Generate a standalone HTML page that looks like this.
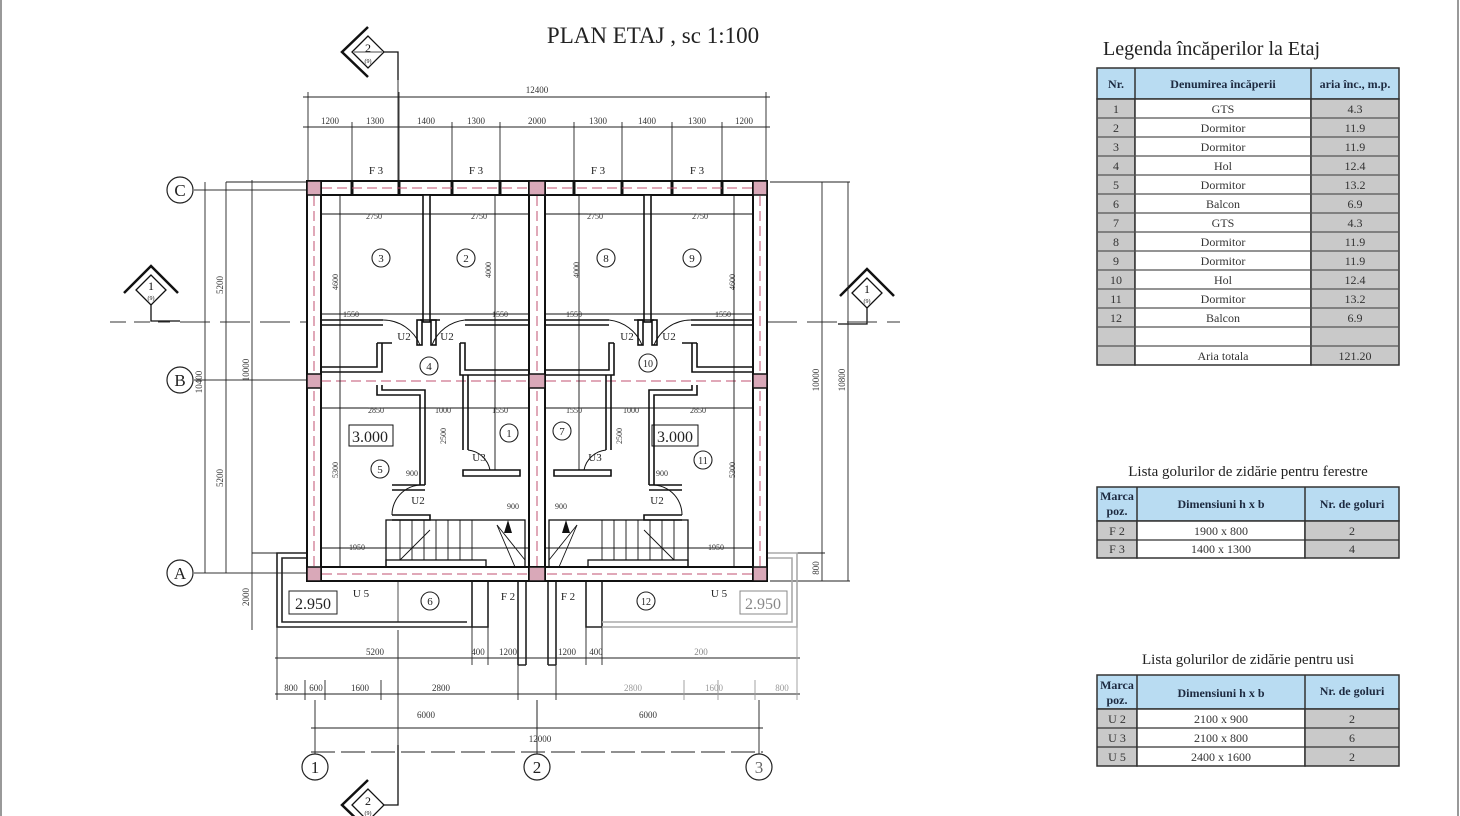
<!DOCTYPE html>
<html><head><meta charset="utf-8"><style>
html,body{margin:0;padding:0;background:#fff;}
svg{display:block;font-family:"Liberation Serif",serif;}
</style></head><body>
<svg width="1460" height="816" viewBox="0 0 1460 816" xmlns="http://www.w3.org/2000/svg">
<rect width="1460" height="816" fill="#fff"/>
<line x1="1" y1="0" x2="1" y2="816" stroke="#999" stroke-width="2"/>
<line x1="1458" y1="0" x2="1458" y2="816" stroke="#999" stroke-width="2"/>
<text x="653" y="43" font-size="23" text-anchor="middle" fill="#222">PLAN ETAJ , sc 1:100</text>

<!-- section markers -->
<g stroke="#111" fill="none" stroke-width="1.3">
  <path d="M368 27 L342 52 L368 77" stroke-width="2.5"/>
  <path d="M368 36 L352 52 L368 68 L384 52 Z"/>
  <line x1="354" y1="52" x2="382" y2="52" stroke-width="0.8"/>
  <path d="M384 52 L398 52 L398 80"/>
  <path d="M368 780 L342 805 L368 830" stroke-width="2.5"/>
  <path d="M368 789 L352 805 L368 821 L384 805 Z"/>
  <path d="M384 805 L398 805 L398 745"/>
  <path d="M124 293 L151 266 L178 293" stroke-width="2.5"/>
  <path d="M151 275 L136 290 L151 305 L166 290 Z"/>
  <path d="M151 305 L151 321 L180 321"/>
  <path d="M840 296 L867 269 L894 296" stroke-width="2.5"/>
  <path d="M867 278 L852 293 L867 308 L882 293 Z"/>
  <path d="M867 308 L867 324 L838 324"/>
</g>
<g font-size="12" text-anchor="middle" fill="#111">
<text x="368" y="52">2</text><text x="368" y="63" font-size="6">(9)</text>
<text x="368" y="805">2</text><text x="368" y="815" font-size="6">(9)</text>
<text x="151" y="290">1</text><text x="151" y="300" font-size="6">(9)</text>
<text x="867" y="293">1</text><text x="867" y="303" font-size="6">(9)</text>
</g>

<!-- axis lines -->
<g stroke="#333" stroke-width="1" fill="none">
  <line x1="110" y1="322" x2="170" y2="322" stroke-dasharray="16 8"/>
  <line x1="180" y1="322" x2="307" y2="322" stroke-dasharray="30 10"/>
  <line x1="767" y1="322" x2="900" y2="322" stroke-dasharray="30 10"/>
  <line x1="194" y1="190" x2="307" y2="190"/>
  <line x1="194" y1="380" x2="307" y2="380"/>
  <line x1="194" y1="573" x2="307" y2="573"/>
  <line x1="315" y1="700" x2="315" y2="754"/>
  <line x1="537" y1="700" x2="537" y2="754"/>
  <line x1="759" y1="700" x2="759" y2="754"/>
  <line x1="398" y1="80" x2="398" y2="181"/>
  <line x1="398" y1="630" x2="398" y2="745"/>
</g>
<g stroke="#222" stroke-width="1.2" fill="#fff">
  <circle cx="180" cy="190" r="13"/><circle cx="180" cy="380" r="13"/><circle cx="180" cy="573" r="13"/>
  <circle cx="315" cy="767" r="13"/><circle cx="537" cy="767" r="13"/><circle cx="759" cy="767" r="13"/>
</g>
<g font-size="17" text-anchor="middle" fill="#222">
  <text x="180" y="196">C</text><text x="180" y="386">B</text><text x="180" y="579">A</text>
  <text x="315" y="773">1</text><text x="537" y="773">2</text><text x="759" y="773" fill="#666">3</text>
</g>

<!-- dimension lines -->
<g stroke="#222" stroke-width="0.9" fill="none">
  <line x1="303" y1="97" x2="770" y2="97"/>
  <line x1="303" y1="127" x2="770" y2="127"/>
  <line x1="308" y1="92" x2="308" y2="181"/><line x1="766" y1="92" x2="766" y2="181"/>
  <line x1="352" y1="122" x2="352" y2="181"/><line x1="399" y1="92" x2="399" y2="181"/>
  <line x1="452" y1="122" x2="452" y2="181"/><line x1="500" y1="122" x2="500" y2="181"/>
  <line x1="574" y1="122" x2="574" y2="181"/><line x1="622" y1="122" x2="622" y2="181"/>
  <line x1="672" y1="122" x2="672" y2="181"/><line x1="722" y1="122" x2="722" y2="181"/>
  <line x1="205" y1="182" x2="205" y2="573"/>
  <line x1="226" y1="182" x2="226" y2="573"/>
  <line x1="252" y1="180" x2="252" y2="630"/>
  <line x1="226" y1="182" x2="307" y2="182"/>
  <line x1="252" y1="553" x2="277" y2="553"/>
  <line x1="822" y1="182" x2="822" y2="581"/>
  <line x1="848" y1="182" x2="848" y2="581"/>
  <line x1="770" y1="182" x2="850" y2="182"/>
  <line x1="770" y1="553" x2="825" y2="553"/>
  <line x1="770" y1="581" x2="850" y2="581"/>
  <line x1="275" y1="658" x2="800" y2="658"/>
  <line x1="275" y1="694" x2="800" y2="694"/>
  <line x1="311" y1="728" x2="763" y2="728"/>
  <line x1="311" y1="752" x2="763" y2="752" stroke-dasharray="24 6"/>
  <line x1="277" y1="627" x2="277" y2="700"/>
  <line x1="305" y1="680" x2="305" y2="700"/>
  <line x1="325" y1="680" x2="325" y2="700"/>
  <line x1="381" y1="680" x2="381" y2="700"/>
  <line x1="472" y1="627" x2="472" y2="665"/>
  <line x1="488" y1="627" x2="488" y2="665"/>
  <line x1="518" y1="627" x2="518" y2="700"/>
  <line x1="556" y1="627" x2="556" y2="700"/>
  <line x1="586" y1="627" x2="586" y2="665"/>
  <line x1="602" y1="627" x2="602" y2="665"/>
  <line x1="537" y1="700" x2="537" y2="730"/>
</g>
<g stroke="#999" stroke-width="0.9">
  <line x1="797" y1="627" x2="797" y2="700"/><line x1="718" y1="680" x2="718" y2="700"/>
  <line x1="684" y1="680" x2="684" y2="700"/><line x1="755" y1="680" x2="755" y2="700"/>
</g>
<g font-size="9" text-anchor="middle" fill="#333">
  <text x="537" y="93">12400</text>
  <text x="330" y="124">1200</text><text x="375" y="124">1300</text><text x="426" y="124">1400</text>
  <text x="476" y="124">1300</text><text x="537" y="124">2000</text><text x="598" y="124">1300</text>
  <text x="647" y="124">1400</text><text x="697" y="124">1300</text><text x="744" y="124">1200</text>
  <text x="375" y="655">5200</text><text x="478" y="655">400</text><text x="508" y="655">1200</text>
  <text x="567" y="655">1200</text><text x="596" y="655">400</text><text x="701" y="655" fill="#888">200</text>
  <text x="291" y="691">800</text><text x="316" y="691">600</text><text x="360" y="691">1600</text>
  <text x="441" y="691">2800</text><text x="633" y="691" fill="#999">2800</text>
  <text x="714" y="691" fill="#999">1600</text><text x="782" y="691" fill="#999">800</text>
  <text x="426" y="718">6000</text><text x="648" y="718">6000</text><text x="540" y="742">12000</text>
  <text transform="translate(223,285) rotate(-90)">5200</text>
  <text transform="translate(223,478) rotate(-90)">5200</text>
  <text transform="translate(202,382) rotate(-90)">10400</text>
  <text transform="translate(249,370) rotate(-90)">10000</text>
  <text transform="translate(249,597) rotate(-90)">2000</text>
  <text transform="translate(819,380) rotate(-90)">10000</text>
  <text transform="translate(845,380) rotate(-90)">10800</text>
  <text transform="translate(819,568) rotate(-90)">800</text>
</g>

<!-- balconies -->
<g stroke="#222" stroke-width="1.6" fill="none">
  <path d="M321 553 L277 553 L277 627 L472 627 L472 581"/>
  <path d="M321 558 L282 558 L282 622 L467 622"/>
  <path d="M472 581 L488 581 L488 627 L472 627"/>
  <path d="M518 581 L518 665 M526 581 L526 665 M548 581 L548 665 M556 581 L556 665 M518 665 L526 665 M548 665 L556 665"/>
  <path d="M602 581 L602 627 L586 627 L586 581"/>
  <path d="M602 622 L792 622 L792 558 L753 558" stroke="#aaa"/>
  <path d="M602 627 L797 627 L797 553 L767 553" stroke="#aaa"/>
  <rect x="289" y="591" width="48" height="23" stroke-width="1"/>
  <rect x="740" y="591" width="47" height="23" stroke-width="1" stroke="#888"/>
  <line x1="398" y1="581" x2="398" y2="622" stroke-width="0.8"/>
</g>

<!-- outer walls -->
<g stroke="#111" stroke-width="2" fill="#fff">
  <rect x="307" y="181" width="460" height="14"/>
  <rect x="307" y="567" width="460" height="14"/>
  <rect x="307" y="181" width="14" height="400"/>
  <rect x="753" y="181" width="14" height="400"/>
  <rect x="529" y="181" width="16" height="400"/>
</g>
<g stroke="#111" stroke-width="3">
  <line x1="321" y1="195" x2="753" y2="195" stroke-width="2"/>
  <line x1="321" y1="567" x2="753" y2="567" stroke-width="2"/>
  <line x1="321" y1="195" x2="321" y2="567" stroke-width="2"/>
  <line x1="753" y1="195" x2="753" y2="567" stroke-width="2"/>
  <line x1="352" y1="181" x2="352" y2="195"/><line x1="399" y1="181" x2="399" y2="195"/>
  <line x1="452" y1="181" x2="452" y2="195"/><line x1="500" y1="181" x2="500" y2="195"/>
  <line x1="574" y1="181" x2="574" y2="195"/><line x1="622" y1="181" x2="622" y2="195"/>
  <line x1="672" y1="181" x2="672" y2="195"/><line x1="722" y1="181" x2="722" y2="195"/>
</g>
<g stroke="#c05070" stroke-width="1" stroke-dasharray="10 5" fill="none">
  <line x1="307" y1="188" x2="767" y2="188"/>
  <line x1="307" y1="574" x2="767" y2="574"/>
  <line x1="321" y1="381" x2="753" y2="381"/>
  <line x1="314" y1="181" x2="314" y2="581"/>
  <line x1="760" y1="181" x2="760" y2="581"/>
  <line x1="537" y1="181" x2="537" y2="581"/>
</g>
<g fill="#d9a8b8" stroke="#111" stroke-width="1.5">
  <rect x="307" y="181" width="14" height="14"/><rect x="529" y="181" width="16" height="14"/><rect x="753" y="181" width="14" height="14"/>
  <rect x="307" y="374" width="14" height="14"/><rect x="529" y="374" width="16" height="14"/><rect x="753" y="374" width="14" height="14"/>
  <rect x="307" y="567" width="14" height="14"/><rect x="529" y="567" width="16" height="14"/><rect x="753" y="567" width="14" height="14"/>
</g>
<g font-size="11" text-anchor="middle" fill="#222">
  <text x="376" y="174">F 3</text><text x="476" y="174">F 3</text><text x="598" y="174">F 3</text><text x="697" y="174">F 3</text>
</g>

<g id="half" stroke="#111" stroke-width="1.6" fill="none">
  <rect x="423" y="195" width="7" height="127" fill="#fff"/>
  <path d="M321 320 L383 320 M420 320 L440 320 M465 320 L529 320"/>
  <path d="M321 325 L383 325 M465 325 L529 325"/>
  <path d="M383 320 A40 40 0 0 1 420 345" stroke-width="1"/>
  <path d="M465 320 A40 40 0 0 0 432 345" stroke-width="1"/>
  <rect x="417" y="320" width="5" height="25"/><rect x="431" y="320" width="5" height="25"/>
  <path d="M377 343 L377 367 L321 367 M382 343 L382 372 L321 372"/>
  <path d="M377 343 L392 343 M460 343 L465 343 L465 370 L529 370 M460 343 L460 375 L529 375"/>
  <path d="M382 385 L382 390 L425 390 L425 485 M377 385 L377 395 L420 395 L420 485"/>
  <path d="M463 375 L463 450 M468 375 L468 450"/>
  <path d="M463 470 L520 470 L520 476 L463 476 Z"/>
  <path d="M468 450 A25 25 0 0 1 490 470" stroke-width="1"/>
  <path d="M392 485 L425 485 M392 490 L425 490"/>
  <path d="M392 515 A30 30 0 0 1 425 485" stroke-width="1"/>
  <path d="M392 515 L430 515 L430 520 L392 520"/>
  <rect x="386" y="520" width="139" height="47" stroke-width="1.3"/>
  <rect x="386" y="560" width="100" height="7" stroke-width="1.3"/>
  <g stroke-width="0.9">
    <line x1="400" y1="520" x2="400" y2="560"/><line x1="412" y1="520" x2="412" y2="560"/>
    <line x1="424" y1="520" x2="424" y2="560"/><line x1="436" y1="520" x2="436" y2="560"/>
    <line x1="448" y1="520" x2="448" y2="560"/><line x1="460" y1="520" x2="460" y2="560"/>
    <line x1="472" y1="520" x2="472" y2="560"/><line x1="400" y1="560" x2="430" y2="530"/>
    <line x1="497" y1="525" x2="515" y2="567"/><line x1="497" y1="525" x2="525" y2="560"/>
    <line x1="321" y1="214" x2="529" y2="214"/><line x1="321" y1="314" x2="529" y2="314"/>
    <line x1="321" y1="408" x2="529" y2="408"/><line x1="321" y1="548" x2="529" y2="548"/>
    <line x1="340" y1="195" x2="340" y2="567"/><line x1="495" y1="195" x2="495" y2="470"/>
  </g>
  <polygon points="508,520 504,533 512,533" fill="#111" stroke="none"/>
</g>
<use href="#half" transform="translate(1074,0) scale(-1,1)"/>
<rect x="349" y="425" width="44" height="21" stroke="#111" stroke-width="1" fill="none"/>
<rect x="652" y="425" width="46" height="21" stroke="#111" stroke-width="1" fill="none"/>

<g stroke="#222" stroke-width="1.1" fill="#fff">
  <circle cx="381" cy="258" r="9"/><circle cx="466" cy="258" r="9"/><circle cx="606" cy="258" r="9"/><circle cx="692" cy="258" r="9"/>
  <circle cx="429" cy="366" r="9"/><circle cx="648" cy="363" r="9"/><circle cx="509" cy="433" r="9"/><circle cx="562" cy="431" r="9"/>
  <circle cx="380" cy="469" r="9"/><circle cx="703" cy="460" r="9"/><circle cx="430" cy="601" r="9"/><circle cx="646" cy="601" r="9"/>
</g>
<g font-size="11" text-anchor="middle" fill="#222">
  <text x="381" y="262">3</text><text x="466" y="262">2</text><text x="606" y="262">8</text><text x="692" y="262">9</text>
  <text x="429" y="370">4</text><text x="648" y="367" font-size="10">10</text><text x="509" y="437">1</text><text x="562" y="435">7</text>
  <text x="380" y="473">5</text><text x="703" y="464" font-size="10">11</text><text x="430" y="605">6</text><text x="646" y="605" font-size="10">12</text>
  <text x="370" y="442" font-size="16">3.000</text><text x="675" y="442" font-size="16">3.000</text>
  <text x="313" y="609" font-size="16">2.950</text><text x="763" y="609" font-size="16" fill="#888">2.950</text>
  <text x="361" y="597">U 5</text><text x="719" y="597">U 5</text>
  <text x="508" y="600">F 2</text><text x="568" y="600">F 2</text>
  <text x="404" y="340">U2</text><text x="447" y="340">U2</text><text x="627" y="340">U2</text><text x="669" y="340">U2</text>
  <text x="418" y="504">U2</text><text x="657" y="504">U2</text>
  <text x="479" y="461">U3</text><text x="595" y="461">U3</text>
</g>
<g font-size="8" text-anchor="middle" fill="#333">
  <text x="374" y="219">2750</text><text x="479" y="219">2750</text><text x="595" y="219">2750</text><text x="700" y="219">2750</text>
  <text x="351" y="317">1550</text><text x="500" y="317">1550</text><text x="574" y="317">1550</text><text x="723" y="317">1550</text>
  <text x="376" y="413">2850</text><text x="500" y="413">1550</text><text x="574" y="413">1550</text><text x="698" y="413">2850</text>
  <text x="443" y="413">1000</text><text x="631" y="413">1000</text>
  <text x="357" y="550">1950</text><text x="716" y="550">1950</text>
  <text x="513" y="509">900</text><text x="561" y="509">900</text>
  <text x="412" y="476">900</text><text x="662" y="476">900</text>
  <text transform="translate(338,470) rotate(-90)">5300</text>
  <text transform="translate(735,470) rotate(-90)">5300</text>
  <text transform="translate(338,282) rotate(-90)">4600</text>
  <text transform="translate(735,282) rotate(-90)">4600</text>
  <text transform="translate(491,270) rotate(-90)">4000</text>
  <text transform="translate(579,270) rotate(-90)">4000</text>
  <text transform="translate(446,436) rotate(-90)">2500</text>
  <text transform="translate(622,436) rotate(-90)">2500</text>
</g>

<text x="1103" y="55" font-size="20" fill="#222">Legenda încăperilor la Etaj</text>
<g stroke="#333" stroke-width="1.5">
  <rect x="1097" y="68" width="302" height="31" fill="#b9dcf2"/>
  <rect x="1097" y="99" width="38" height="266" fill="#c9c9c9"/>
  <rect x="1135" y="99" width="176" height="266" fill="#fff"/>
  <rect x="1311" y="99" width="88" height="266" fill="#c9c9c9"/>
  <line x1="1135" y1="68" x2="1135" y2="99"/><line x1="1311" y1="68" x2="1311" y2="99"/>
</g>
<g stroke="#555" stroke-width="1.2">
  <line x1="1097" y1="118" x2="1399" y2="118"/><line x1="1097" y1="137" x2="1399" y2="137"/>
  <line x1="1097" y1="156" x2="1399" y2="156"/><line x1="1097" y1="175" x2="1399" y2="175"/>
  <line x1="1097" y1="194" x2="1399" y2="194"/><line x1="1097" y1="213" x2="1399" y2="213"/>
  <line x1="1097" y1="232" x2="1399" y2="232"/><line x1="1097" y1="251" x2="1399" y2="251"/>
  <line x1="1097" y1="270" x2="1399" y2="270"/><line x1="1097" y1="289" x2="1399" y2="289"/>
  <line x1="1097" y1="308" x2="1399" y2="308"/><line x1="1097" y1="327" x2="1399" y2="327"/>
  <line x1="1097" y1="346" x2="1399" y2="346"/>
</g>
<g font-size="12" text-anchor="middle" fill="#333">
  <text x="1116" y="88" font-weight="bold" fill="#1d2a40">Nr.</text>
  <text x="1223" y="88" font-weight="bold" fill="#1d2a40">Denumirea încăperii</text>
  <text x="1355" y="88" font-weight="bold" fill="#1d2a40">aria înc., m.p.</text>
  <text x="1116" y="113">1</text><text x="1223" y="113">GTS</text><text x="1355" y="113">4.3</text>
  <text x="1116" y="132">2</text><text x="1223" y="132">Dormitor</text><text x="1355" y="132">11.9</text>
  <text x="1116" y="151">3</text><text x="1223" y="151">Dormitor</text><text x="1355" y="151">11.9</text>
  <text x="1116" y="170">4</text><text x="1223" y="170">Hol</text><text x="1355" y="170">12.4</text>
  <text x="1116" y="189">5</text><text x="1223" y="189">Dormitor</text><text x="1355" y="189">13.2</text>
  <text x="1116" y="208">6</text><text x="1223" y="208">Balcon</text><text x="1355" y="208">6.9</text>
  <text x="1116" y="227">7</text><text x="1223" y="227">GTS</text><text x="1355" y="227">4.3</text>
  <text x="1116" y="246">8</text><text x="1223" y="246">Dormitor</text><text x="1355" y="246">11.9</text>
  <text x="1116" y="265">9</text><text x="1223" y="265">Dormitor</text><text x="1355" y="265">11.9</text>
  <text x="1116" y="284">10</text><text x="1223" y="284">Hol</text><text x="1355" y="284">12.4</text>
  <text x="1116" y="303">11</text><text x="1223" y="303">Dormitor</text><text x="1355" y="303">13.2</text>
  <text x="1116" y="322">12</text><text x="1223" y="322">Balcon</text><text x="1355" y="322">6.9</text>
  <text x="1223" y="360">Aria totala</text><text x="1355" y="360">121.20</text>
</g>

<text x="1248" y="476" font-size="15" text-anchor="middle" fill="#222">Lista golurilor de zidărie pentru ferestre</text>
<g stroke="#333" stroke-width="1.5">
  <rect x="1097" y="487" width="302" height="34" fill="#b9dcf2"/>
  <rect x="1097" y="521" width="40" height="37" fill="#c9c9c9"/>
  <rect x="1137" y="521" width="168" height="37" fill="#fff"/>
  <rect x="1305" y="521" width="94" height="37" fill="#c9c9c9"/>
  <line x1="1137" y1="487" x2="1137" y2="521"/><line x1="1305" y1="487" x2="1305" y2="521"/>
  <line x1="1097" y1="540" x2="1399" y2="540" stroke-width="1.2"/>
</g>
<g font-size="12" text-anchor="middle" fill="#333">
  <text x="1117" y="500" font-weight="bold" fill="#1d2a40">Marca</text>
  <text x="1117" y="515" font-weight="bold" fill="#1d2a40">poz.</text>
  <text x="1221" y="508" font-weight="bold" fill="#1d2a40">Dimensiuni h x b</text>
  <text x="1352" y="508" font-weight="bold" fill="#1d2a40">Nr. de goluri</text>
  <text x="1117" y="535">F 2</text><text x="1221" y="535">1900 x 800</text><text x="1352" y="535">2</text>
  <text x="1117" y="553">F 3</text><text x="1221" y="553">1400 x 1300</text><text x="1352" y="553">4</text>
</g>

<text x="1248" y="664" font-size="15" text-anchor="middle" fill="#222">Lista golurilor de zidărie pentru usi</text>
<g stroke="#333" stroke-width="1.5">
  <rect x="1097" y="675" width="302" height="34" fill="#b9dcf2"/>
  <rect x="1097" y="709" width="40" height="57" fill="#c9c9c9"/>
  <rect x="1137" y="709" width="168" height="57" fill="#fff"/>
  <rect x="1305" y="709" width="94" height="57" fill="#c9c9c9"/>
  <line x1="1137" y1="675" x2="1137" y2="709"/><line x1="1305" y1="675" x2="1305" y2="709"/>
  <line x1="1097" y1="728" x2="1399" y2="728" stroke-width="1.2"/>
  <line x1="1097" y1="747" x2="1399" y2="747" stroke-width="1.2"/>
</g>
<g font-size="12" text-anchor="middle" fill="#333">
  <text x="1117" y="689" font-weight="bold" fill="#1d2a40">Marca</text>
  <text x="1117" y="704" font-weight="bold" fill="#1d2a40">poz.</text>
  <text x="1221" y="697" font-weight="bold" fill="#1d2a40">Dimensiuni h x b</text>
  <text x="1352" y="695" font-weight="bold" fill="#1d2a40">Nr. de goluri</text>
  <text x="1117" y="723">U 2</text><text x="1221" y="723">2100 x 900</text><text x="1352" y="723">2</text>
  <text x="1117" y="742">U 3</text><text x="1221" y="742">2100 x 800</text><text x="1352" y="742">6</text>
  <text x="1117" y="761">U 5</text><text x="1221" y="761">2400 x 1600</text><text x="1352" y="761">2</text>
</g>
</svg>
</body></html>
